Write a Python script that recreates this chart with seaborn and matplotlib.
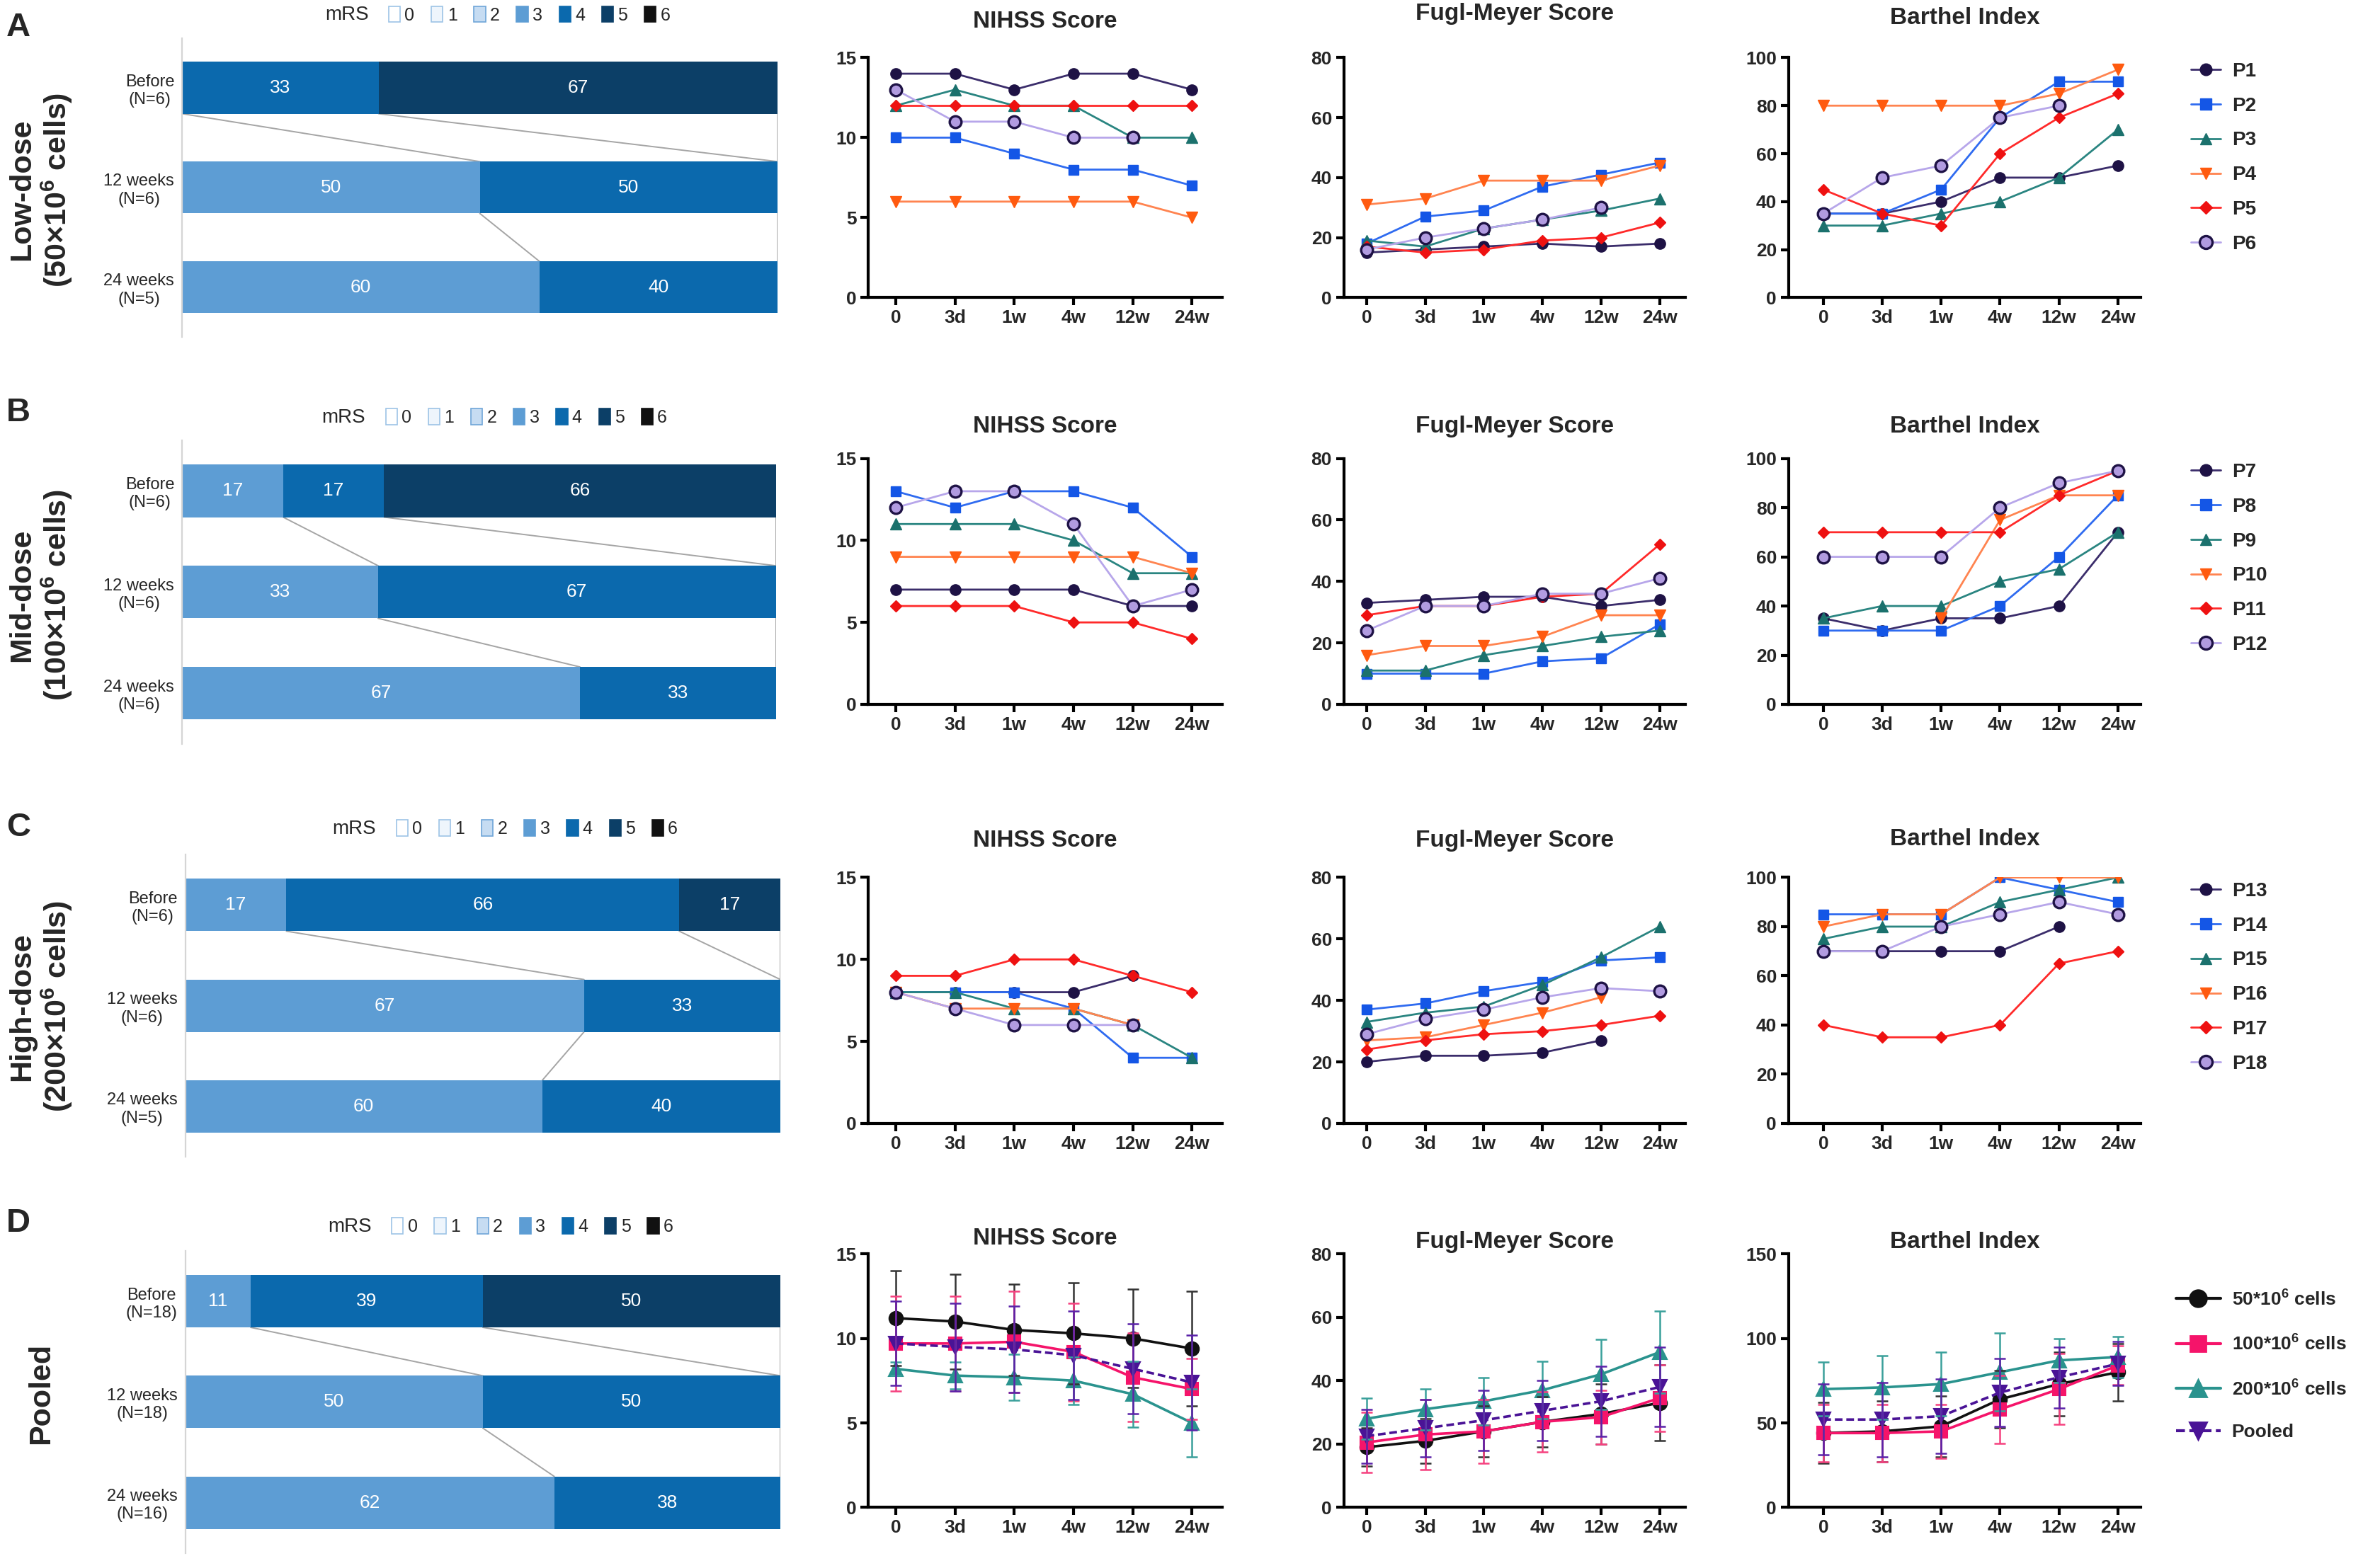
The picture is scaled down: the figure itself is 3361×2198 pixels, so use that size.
"""
mRS distribution and NIHSS / Fugl-Meyer / Barthel scores by dose group
"""
# %% Import libraries
import numpy as np
import pandas as pd
import seaborn as sns
import matplotlib.pyplot as plt
from matplotlib.patches import Patch
from matplotlib.lines import Line2D

nan = np.nan

# %% Data
TIMES = ['0', '3d', '1w', '4w', '12w', '24w']
BAR_ROWS = ['Before', '12 weeks', '24 weeks']
MRS_LEVELS = [0, 1, 2, 3, 4, 5, 6]
SCORE_TITLES = ['NIHSS Score', 'Fugl-Meyer Score', 'Barthel Index']

# mRS share (%) for levels 0..6 at Before / 12 weeks / 24 weeks
mrs_low = [[0, 0, 0, 0, 33, 67, 0], [0, 0, 0, 50, 50, 0, 0], [0, 0, 0, 60, 40, 0, 0]]
mrs_mid = [[0, 0, 0, 17, 17, 66, 0], [0, 0, 0, 33, 67, 0, 0], [0, 0, 0, 67, 33, 0, 0]]
mrs_high = [[0, 0, 0, 17, 66, 17, 0], [0, 0, 0, 67, 33, 0, 0], [0, 0, 0, 60, 40, 0, 0]]
mrs_pooled = [[0, 0, 0, 11, 39, 50, 0], [0, 0, 0, 50, 50, 0, 0], [0, 0, 0, 62, 38, 0, 0]]
n_low = [6, 6, 5]
n_mid = [6, 6, 6]
n_high = [6, 6, 5]
n_pooled = [18, 18, 16]

# individual patients
names_low = ['P1', 'P2', 'P3', 'P4', 'P5', 'P6']
nihss_low = [[14, 14, 13, 14, 14, 13], [10, 10, 9, 8, 8, 7], [12, 13, 12, 12, 10, 10],
             [6, 6, 6, 6, 6, 5], [12, 12, 12, 12, 12, 12], [13, 11, 11, 10, 10, nan]]
fm_low = [[15, 16, 17, 18, 17, 18], [18, 27, 29, 37, 41, 45], [19, 17, 23, 26, 29, 33],
          [31, 33, 39, 39, 39, 44], [17, 15, 16, 19, 20, 25], [16, 20, 23, 26, 30, nan]]
bi_low = [[35, 35, 40, 50, 50, 55], [35, 35, 45, 75, 90, 90], [30, 30, 35, 40, 50, 70],
          [80, 80, 80, 80, 85, 95], [45, 35, 30, 60, 75, 85], [35, 50, 55, 75, 80, nan]]

names_mid = ['P7', 'P8', 'P9', 'P10', 'P11', 'P12']
nihss_mid = [[7, 7, 7, 7, 6, 6], [13, 12, 13, 13, 12, 9], [11, 11, 11, 10, 8, 8],
             [9, 9, 9, 9, 9, 8], [6, 6, 6, 5, 5, 4], [12, 13, 13, 11, 6, 7]]
fm_mid = [[33, 34, 35, 35, 32, 34], [10, 10, 10, 14, 15, 26], [11, 11, 16, 19, 22, 24],
          [16, 19, 19, 22, 29, 29], [29, 32, 32, 35, 36, 52], [24, 32, 32, 36, 36, 41]]
bi_mid = [[35, 30, 35, 35, 40, 70], [30, 30, 30, 40, 60, 85], [35, 40, 40, 50, 55, 70],
          [nan, nan, 35, 75, 85, 85], [70, 70, 70, 70, 85, 95], [60, 60, 60, 80, 90, 95]]

names_high = ['P13', 'P14', 'P15', 'P16', 'P17', 'P18']
nihss_high = [[8, 8, 8, 8, 9, nan], [8, 8, 8, 7, 4, 4], [8, 8, 7, 7, 6, 4],
              [8, 7, 7, 7, 6, nan], [9, 9, 10, 10, 9, 8], [8, 7, 6, 6, 6, nan]]
fm_high = [[20, 22, 22, 23, 27, nan], [37, 39, 43, 46, 53, 54], [33, 36, 38, 45, 54, 64],
           [27, 28, 32, 36, 41, nan], [24, 27, 29, 30, 32, 35], [29, 34, 37, 41, 44, 43]]
bi_high = [[70, 70, 70, 70, 80, nan], [85, 85, 85, 100, 95, 90], [75, 80, 80, 90, 95, 100],
           [80, 85, 85, 100, 100, 100], [40, 35, 35, 40, 65, 70], [70, 70, 80, 85, 90, 85]]

# pooled means and SD: 50, 100, 200 x10^6 cells and pooled
GROUPS = ['50*10$^{\\mathbf{6}}$ cells', '100*10$^{\\mathbf{6}}$ cells',
          '200*10$^{\\mathbf{6}}$ cells', 'Pooled']
nihss_mean = [[11.2, 11.0, 10.5, 10.3, 10.0, 9.4], [9.7, 9.7, 9.8, 9.2, 7.7, 7.0],
              [8.2, 7.8, 7.7, 7.5, 6.7, 5.0], [9.7, 9.5, 9.35, 9.0, 8.2, 7.4]]
nihss_sd = [[2.8, 2.8, 2.7, 3.0, 2.9, 3.4], [2.8, 2.8, 3.0, 2.9, 2.6, 1.8],
            [0.4, 0.8, 1.35, 1.4, 1.95, 2.0], [2.5, 2.6, 2.55, 2.6, 2.65, 2.8]]
fm_mean = [[19, 21, 24, 27, 29.5, 33], [20.5, 23, 24, 27, 28.5, 34.5],
           [28, 31, 33.5, 37, 42, 49], [22.5, 25, 27.5, 30.5, 33.5, 38]]
fm_sd = [[6, 7, 8, 8, 9.5, 12], [9.5, 11, 10, 9.5, 8.5, 10.5],
         [6.5, 6.5, 7.5, 9, 11, 13], [8.5, 9, 9.5, 9.5, 11, 12.5]]
bi_mean = [[44, 45, 48, 64, 73, 80], [44, 44, 45, 58, 70, 84],
           [70, 71, 73, 80, 87, 89], [52, 52, 54, 68, 77, 85]]
bi_sd = [[18, 18, 18, 17, 19, 17], [17, 17, 16, 20, 21, 11.5],
         [16, 19, 19, 23, 13, 12], [21, 22, 22, 20, 18, 13]]

# %% Styles
MRS_COLORS = ['#ffffff', '#eef5fc', '#c6dcf2', '#5d9dd4', '#0b69ad', '#0c3f67', '#111111']
MRS_EDGES = ['#9dc3e6', '#9dc3e6', '#6fa5d8', '#5d9dd4', '#0b69ad', '#0c3f67', '#111111']

# line colour, marker, face, edge, size, edge width
PATIENT_STYLES = [
    ('#3b2d6b', 'o', '#1e1245', '#1e1245', 5.5, 0.5),
    ('#2f6bf0', 's', '#1456e6', '#1456e6', 5.0, 0.5),
    ('#2a8581', '^', '#1b716d', '#1b716d', 5.5, 0.5),
    ('#ff8450', 'v', '#ff5a0f', '#ff5a0f', 5.5, 0.5),
    ('#ff2a2a', 'D', '#ee1111', '#ee1111', 4.0, 0.5),
    ('#b7a6ea', 'o', '#b19be0', '#1e1245', 6.0, 1.2),
]
# line colour, marker, size, linestyle, error colour
GROUP_STYLES = [
    ('#111111', 'o', 7.0, '-', '#333333'),
    ('#f5146a', 's', 6.5, '-', '#f5417f'),
    ('#2a938e', '^', 7.0, '-', '#3aa09b'),
    ('#4a1396', 'v', 7.0, (0, (3, 1.5)), '#5a22a8'),
]

sns.set_theme(style='ticks')
plt.rcParams['font.family'] = ['Liberation Sans', 'DejaVu Sans']
plt.rcParams['font.weight'] = 'bold'
plt.rcParams['mathtext.fontset'] = 'custom'
plt.rcParams['mathtext.rm'] = 'Liberation Sans'
plt.rcParams['mathtext.bf'] = 'Liberation Sans:bold'

SW, SH = 1568, 1025  # layout grid


def box(x0, y0, x1, y1):
    return [x0 / SW, 1 - y1 / SH, (x1 - x0) / SW, (y1 - y0) / SH]


def fx(x):
    return x / SW


def fy(y):
    return 1 - y / SH


# %% Layout per row
ROWS = [
    dict(letter='A', bar=(120, 512, 25, 222), line=(38, 196), mrs=(214, 10),
         titles=(14, 9, 12), label='Low-dose\n(50×10$^{\\mathbf{6}}$ cells)', label_y=125),
    dict(letter='B', bar=(120, 511, 290, 490), line=(302, 464), mrs=(212, 275),
         titles=(281, 281, 281), label='Mid-dose\n(100×10$^{\\mathbf{6}}$ cells)', label_y=392),
    dict(letter='C', bar=(122, 514, 563, 762), line=(578, 740), mrs=(219, 546),
         titles=(554, 554, 553), label='High-dose\n(200×10$^{\\mathbf{6}}$ cells)', label_y=663),
    dict(letter='D', bar=(122, 514, 824, 1023), line=(826, 993), mrs=(216, 808),
         titles=(816, 818, 818), label='Pooled', label_y=918),
]
LETTER_Y = [18, 272, 545, 806]
COLS = [(572, 805, (-0.46, 5.51)), (885, 1110, (-0.39, 5.44)), (1178, 1410, (-0.59, 5.39))]
YSCALES = [((0, 15), [0, 5, 10, 15]), ((0, 80), [0, 20, 40, 60, 80]), ((0, 100), [0, 20, 40, 60, 80, 100])]


# %% Helpers
def draw_mrs_bars(ax, table, ns):
    df = pd.DataFrame(table, columns=MRS_LEVELS)
    labels = [f'{r}\n(N={n})' for r, n in zip(BAR_ROWS, ns)]
    cum = df.cumsum(axis=1)
    for lvl in reversed(MRS_LEVELS):
        if df[lvl].sum() == 0:
            continue
        sns.barplot(x=cum[lvl].values, y=labels, orient='h', color=MRS_COLORS[lvl],
                    saturation=1, width=0.52, linewidth=0, ax=ax)
    for i in range(len(df)):
        left = 0
        for lvl in MRS_LEVELS:
            v = df.loc[i, lvl]
            if v > 0:
                ax.text(left + v / 2, i, str(v), ha='center', va='center',
                        color='white', fontsize=9.5, fontweight='normal')
            left += v
    starts = cum - df
    for i in range(len(df) - 1):
        pairs = set(zip(starts.iloc[i], starts.iloc[i + 1])) | {(100, 100)}
        for a, b in pairs:
            ax.plot([a, b], [i + 0.26, i + 1 - 0.26], color='#a5a5a5', lw=0.7, zorder=0)
    ax.set_xlim(0, 100)
    ax.set_ylim(2.5, -0.5)
    ax.set_xticks([])
    ax.set_xlabel('')
    ax.set_ylabel('')
    sns.despine(ax=ax, bottom=True)
    ax.spines['left'].set_color('#d5d5d5')
    ax.spines['left'].set_linewidth(0.8)
    ax.tick_params(axis='y', length=0, pad=4, labelsize=8.5)
    for lab in ax.get_yticklabels():
        lab.set_fontweight('normal')
        lab.set_multialignment('center')


def mrs_legend(x, y):
    fig.text(fx(x), fy(y), 'mRS', ha='left', va='center', fontsize=10, fontweight='normal')
    handles = [Patch(facecolor=c, edgecolor=e, lw=0.6) for c, e in zip(MRS_COLORS, MRS_EDGES)]
    leg = fig.legend(handles, [str(l) for l in MRS_LEVELS], loc='center left',
                     bbox_to_anchor=(fx(x + 42), fy(y)), ncol=7, frameon=False,
                     fontsize=9, handlelength=0.65, handleheight=1.0,
                     handletextpad=0.25, columnspacing=0.95, borderpad=0, borderaxespad=0)
    for t in leg.get_texts():
        t.set_fontweight('normal')


def style_line_axes(ax, ylim, yticks, xlim):
    ax.set_xlim(xlim)
    ax.set_ylim(ylim)
    ax.set_yticks(yticks)
    ax.set_xlabel('')
    ax.set_ylabel('')
    sns.despine(ax=ax)
    for s in ['left', 'bottom']:
        ax.spines[s].set_linewidth(1.5)
        ax.spines[s].set_color('black')
    ax.tick_params(width=1.5, length=4, labelsize=9.5, color='black', pad=2)


def draw_patients(ax, table):
    for vals, st in zip(table, PATIENT_STYLES):
        d = pd.DataFrame({'time': TIMES, 'score': vals}).dropna()
        sns.lineplot(data=d, x='time', y='score', sort=False, errorbar=None,
                     color=st[0], linewidth=1.0, marker=st[1], markersize=st[4],
                     markerfacecolor=st[2], markeredgecolor=st[3],
                     markeredgewidth=st[5], ax=ax)


def draw_pooled(ax, means, sds):
    for m, s, st in zip(means, sds, GROUP_STYLES):
        sns.lineplot(x=TIMES, y=m, sort=False, errorbar=None, color=st[0],
                     linewidth=1.3, linestyle=st[3], marker=st[1], markersize=st[2],
                     markerfacecolor=st[0], markeredgecolor=st[0], ax=ax)
        ax.errorbar(TIMES, m, yerr=s, fmt='none', ecolor=st[4], elinewidth=0.9,
                    capsize=3, capthick=0.9, zorder=3)


# %% Figure
fig = plt.figure(figsize=(3362 / 200, 2198 / 200), dpi=200)

bar_tables = [(mrs_low, n_low), (mrs_mid, n_mid), (mrs_high, n_high), (mrs_pooled, n_pooled)]
score_tables = [(nihss_low, fm_low, bi_low), (nihss_mid, fm_mid, bi_mid),
                (nihss_high, fm_high, bi_high)]
patient_names = [names_low, names_mid, names_high]

for r, row in enumerate(ROWS):
    # letter and row label
    fig.text(fx(12), fy(LETTER_Y[r]), row['letter'], ha='center', va='center', fontsize=17)
    fig.text(fx(27), fy(row['label_y']), row['label'], rotation=90, ha='center',
             va='center', fontsize=15.5, multialignment='center', linespacing=1.1)

    # mRS bars
    x0, x1, y0, y1 = row['bar']
    ax = fig.add_axes(box(x0, y0, x1, y1))
    draw_mrs_bars(ax, *bar_tables[r])
    mrs_legend(*row['mrs'])

    # score panels
    top, bottom = row['line']
    for c, (cx0, cx1, xlim) in enumerate(COLS):
        ax = fig.add_axes(box(cx0, top, cx1, bottom))
        ylim, yticks = YSCALES[c]
        if r < 3:
            draw_patients(ax, score_tables[r][c])
        else:
            means = [nihss_mean, fm_mean, bi_mean][c]
            sds = [nihss_sd, fm_sd, bi_sd][c]
            draw_pooled(ax, means, sds)
            if c == 2:
                ylim, yticks = (0, 150), [0, 50, 100, 150]
        style_line_axes(ax, ylim, yticks, xlim)
        fig.text(fx((cx0 + cx1) / 2), fy(row['titles'][c]), SCORE_TITLES[c],
                 ha='center', va='center', fontsize=12)

    # legends
    if r < 3:
        handles = [Line2D([], [], color=st[0], lw=1.0, marker=st[1], markersize=st[4] + 0.5,
                          markerfacecolor=st[2], markeredgecolor=st[3], markeredgewidth=st[5])
                   for st in PATIENT_STYLES]
        fig.legend(handles, patient_names[r], loc='upper left',
                   bbox_to_anchor=(fx(1443), fy(top + 3)), frameon=False, fontsize=10,
                   handlelength=1.5, handletextpad=0.6, labelspacing=0.82,
                   borderpad=0, borderaxespad=0)
    else:
        handles = [Line2D([], [], color=st[0], lw=1.5, linestyle=st[3], marker=st[1],
                          markersize=st[2] + 1.5, markerfacecolor=st[0], markeredgecolor=st[0])
                   for st in GROUP_STYLES]
        fig.legend(handles, GROUPS, loc='upper left', bbox_to_anchor=(fx(1433), fy(849)),
                   frameon=False, fontsize=9.5, handlelength=2.4, handletextpad=0.6,
                   labelspacing=1.35, borderpad=0, borderaxespad=0)

fig.savefig('out.png', dpi=200)
